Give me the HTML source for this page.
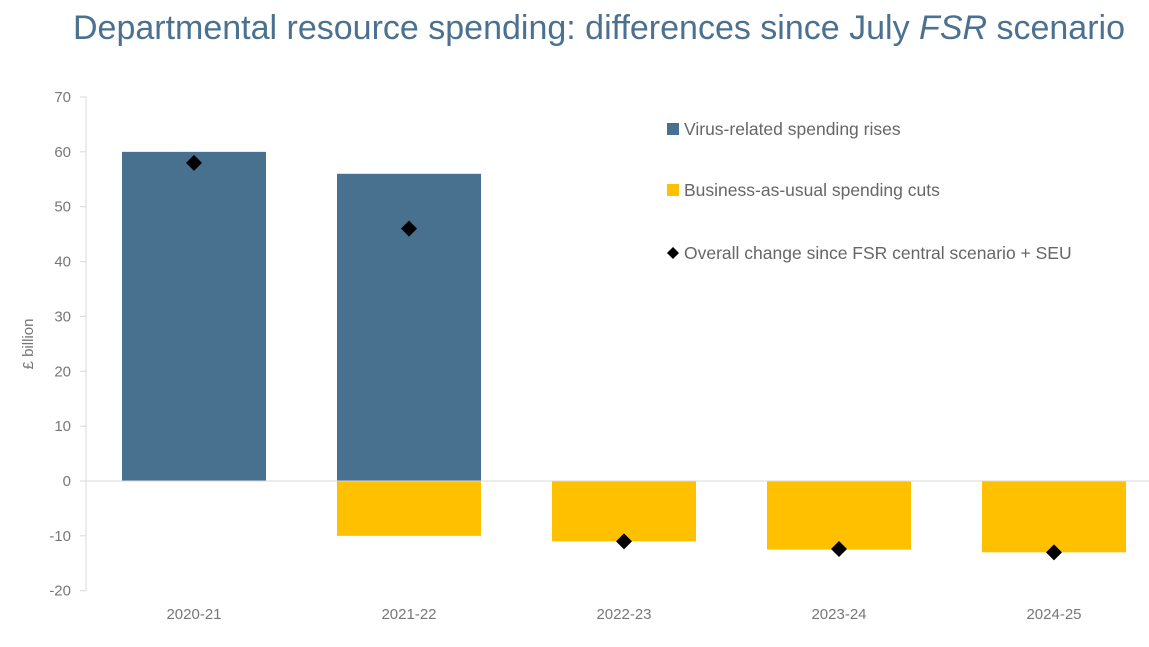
<!DOCTYPE html>
<html><head><meta charset="utf-8"><style>
body{margin:0;background:#fff;width:1149px;height:642px;overflow:hidden;font-family:"Liberation Sans",sans-serif}
svg text{font-family:"Liberation Sans",sans-serif}
</style></head><body>
<svg id="c" width="1149" height="642">
<text x="599" y="39" text-anchor="middle" font-size="34" fill="#4b7190">Departmental resource spending: differences since July <tspan font-style="italic">FSR</tspan> scenario</text>
<text transform="translate(33,344) rotate(-90)" text-anchor="middle" font-size="15" fill="#777">£ billion</text>
<g id="g"></g>
</svg>
<script>
const categories=["2020-21","2021-22","2022-23","2023-24","2024-25"];
const virusRises=[60,56,0,0,0];
const bauCuts=[0,-10,-11,-12.5,-13];
const overall=[58,46,-11,-12.4,-13];
const yTicks=[70,60,50,40,30,20,10,0,-10,-20];
const NS="http://www.w3.org/2000/svg";
const g=document.getElementById('g');
const y=v=>481-v*5.4857;
const x=i=>194+i*215;
function mk(t,a){const e=document.createElementNS(NS,t);for(const k in a)e.setAttribute(k,a[k]);g.appendChild(e);return e;}
let ax=mk('line',{x1:86,x2:86,y1:97,y2:591,stroke:'#d9d9d9'});


yTicks.forEach(v=>{const t=mk('text',{x:71,y:y(v)+5,'text-anchor':'end','font-size':15,fill:'#777'});t.textContent=v;


const tk=mk('line',{x1:80,x2:86,y1:y(v),y2:y(v),stroke:'#d9d9d9'});

});
categories.forEach((c,i)=>{
const t=mk('text',{x:x(i),y:619,'text-anchor':'middle','font-size':15,fill:'#777'});t.textContent=c;


if(virusRises[i]){const r=mk('rect',{x:x(i)-72,width:144,y:y(virusRises[i]),height:y(0)-y(virusRises[i]),fill:'#48708f'});

}
if(bauCuts[i]){const r=mk('rect',{x:x(i)-72,width:144,y:y(0),height:y(bauCuts[i])-y(0),fill:'#ffc000'});

}
});
let base=mk('line',{x1:86,x2:1149,y1:y(0),y2:y(0),stroke:'#d9d9d9'});


overall.forEach((v,i)=>{const cx=x(i),cy=y(v);
const p=mk('polygon',{points:`${cx},${cy-8} ${cx+8},${cy} ${cx},${cy+8} ${cx-8},${cy}`,fill:'#000'});

});
const leg=[["Virus-related spending rises","#48708f","sq",129],["Business-as-usual spending cuts","#ffc000","sq",190],["Overall change since FSR central scenario + SEU","#000","dia",253]];
leg.forEach(l=>{let m;
if(l[2]=="sq")m=mk('rect',{x:667,y:l[3]-6,width:12,height:12,fill:l[1]});
else m=mk('polygon',{points:`673,${l[3]-6} 679,${l[3]} 673,${l[3]+6} 667,${l[3]}`,fill:'#000'});


const t=mk('text',{x:684,y:l[3]+6,'font-size':17.5,fill:'#666'});t.textContent=l[0];

});
</script>
</body></html>
